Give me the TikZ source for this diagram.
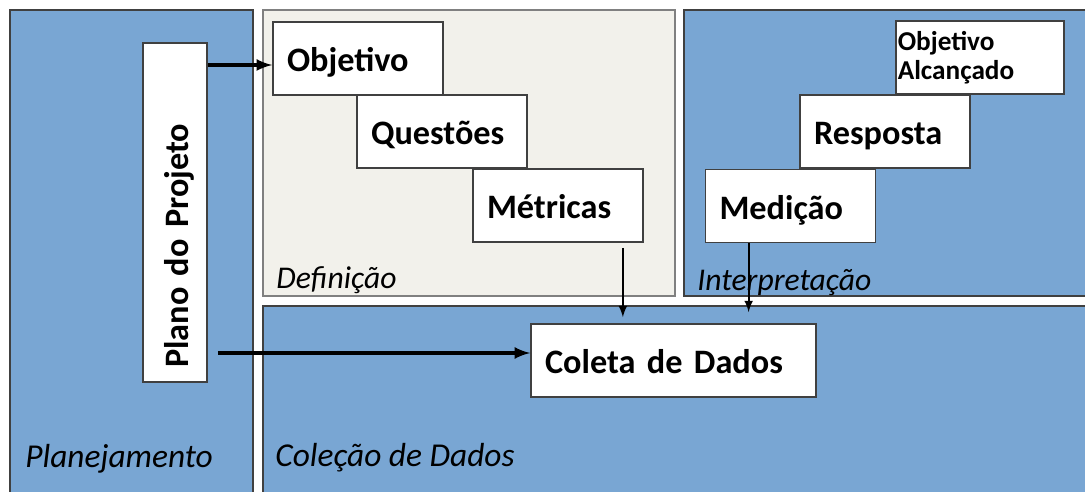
\documentclass[tikz,border=0pt]{standalone}
\usepackage{fontspec}
\setmainfont{Carlito}
\definecolor{panelblue}{RGB}{121,166,211}
\definecolor{panelbeige}{RGB}{242,241,235}
\definecolor{edge}{RGB}{64,64,64}
\tikzset{
stage/.style={draw=edge,line width=1pt,fill=white,minimum height=1.46cm,
  inner xsep=0.28cm,text width=#1,align=left,text height=19pt,text depth=4pt,
  font=\fontsize{19.5}{23}\selectfont\bfseries},
stage/.default=2.84cm,
phase/.style={anchor=base west,inner sep=0pt,font=\fontsize{19}{23}\selectfont\itshape}
}
\begin{document}
\begin{tikzpicture}[x=0.02cm,y=-0.02cm,>=latex]
\clip (0,0) rectangle (1085,492);
\fill[white] (0,0) rectangle (1085,492);
\filldraw[draw=edge,line width=0.9pt,fill=panelblue] (10,10) rectangle (253,500);
\filldraw[draw=gray,line width=1.3pt,fill=panelbeige] (263,10) rectangle (675,296);
\filldraw[draw=edge,line width=0.9pt,fill=panelblue] (684,10) rectangle (1095,296);
\filldraw[draw=edge,line width=0.9pt,fill=panelblue] (263,306) rectangle (1095,500);
\node[phase] (planejamento) at (25,468) {Planejamento};
\node[phase,font=\fontsize{18}{22}\selectfont\itshape] (definicao) at (276,289) {Definição};
\node[phase,font=\fontsize{18}{22}\selectfont\itshape] (interpretacao) at (697,291) {Interpretação};
\node[phase] (colecao) at (275,467) {Coleção de Dados};
\foreach \nm/\x/\y/\txt in {objetivo/358/58.5/Objetivo,questoes/442/131.5/Questões,
  metricas/558/205.5/Métricas,resposta/885/131.5/Resposta,medicao/790.5/206/Medição}
{
\node[stage] (\nm) at (\x,\y) {\txt};
}
\node[stage=5.14cm] (coleta) at (673.5,360.5) {Coleta de Dados};
\node[stage=6.22cm,rotate=90,minimum height=1.28cm] (plano) at (175,212.5) {Plano do Projeto};
\node[draw=edge,line width=1pt,fill=white,minimum height=1.46cm,inner xsep=1pt,
  text width=3.29cm,align=left,font=\fontsize{15.5}{16.5}\selectfont\bfseries]
  (alcancado) at (980,57.5) {Objetivo\\Alcançado};
\coordinate (objetivoin) at ([yshift=-0.13cm]objetivo.west);
\coordinate (coletain) at ([yshift=0.15cm]coleta.west);
\coordinate (metricasout) at ([xshift=-0.42cm]metricas.south east);
\coordinate (medicaoout) at ([xshift=0.88cm]medicao.south west);
\draw[->,line width=2pt] (plano.south |- objetivoin) -- (objetivoin);
\draw[->,line width=2pt,shorten <=0.2cm] (plano.south |- coletain) -- (coletain);
\draw[->,line width=1.2pt,shorten <=0.1cm,shorten >=0.12cm] (metricasout) -- (metricasout |- coleta.north);
\draw[->,line width=1.2pt,shorten >=0.22cm] (medicaoout) -- (medicaoout |- coleta.north);
\end{tikzpicture}
\end{document}
